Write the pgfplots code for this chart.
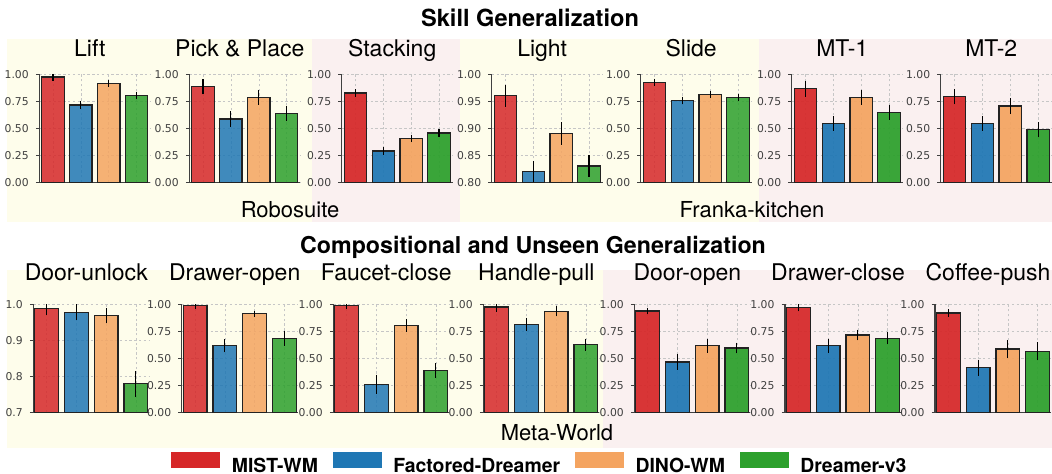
\documentclass[border=0pt]{standalone}
\usepackage{fontspec}
\setmainfont{TeX Gyre Heros}
\newfontfamily\dejavu{DejaVu Sans}
\usepackage{pgfplots}
\pgfplotsset{compat=1.18}

\definecolor{cA}{HTML}{D62728}
\definecolor{cB}{HTML}{1F77B4}
\definecolor{cC}{HTML}{F4A460}
\definecolor{cD}{HTML}{2CA02C}
\definecolor{bgY}{HTML}{FEFDEB}
\definecolor{bgP}{HTML}{FAF0F0}
\definecolor{edge}{HTML}{222222}
\definecolor{spine}{HTML}{404040}

\pgfplotsset{
  panel/.style={
    scale only axis, anchor=south west,
    height=54pt, ymin=0, ymax=1,
    axis x line*=bottom, axis y line*=left,
    axis line style={spine, line width=0.7pt},
    xtick={0,1,2,3}, xticklabels={},
    xtick style={draw=none},
    ytick={0,0.25,0.5,0.75,1},
    ytick style={spine, line width=0.5pt},
    tick align=outside, major tick length=1.75pt,
    grid=major, grid style={dash pattern=on 1.2pt off 1.2pt, gray!45, line width=0.25pt},
    tick label style={font=\dejavu\fontsize{5.4}{6}\selectfont, text=black!75},
    /pgf/number format/assume math mode=true,
    yticklabel style={/pgf/number format/.cd, fixed, fixed zerofill, precision=2},
    title style={font=\fontsize{11.5}{13}\selectfont, anchor=base, at={(0.5,1)}, xshift=-2.5pt},
  },
  toprow/.style={panel, width=55.5pt, xmin=-0.49, xmax=3.49, title style={yshift=3pt}},
  botrow/.style={panel, width=58pt, xmin=-0.45, xmax=3.45, title style={yshift=6pt}},
  bar/.style={ybar, bar width=0.8, bar shift=0pt, draw=edge, line width=0.6pt,
    error bars/y dir=both, error bars/y explicit,
    error bars/error bar style={black, line width=0.55pt},
    error bars/error mark options={mark size=1.3pt, black, line width=0.55pt}},
}

% four bars per panel: opacity, then value/error pairs
\newcommand\bars[9]{%
  \addplot[bar, fill=cA, fill opacity=#1] coordinates {(0,#2) +- (0,#3)};
  \addplot[bar, fill=cB, fill opacity=#1] coordinates {(1,#4) +- (0,#5)};
  \addplot[bar, fill=cC, fill opacity=#1] coordinates {(2,#6) +- (0,#7)};
  \addplot[bar, fill=cD, fill opacity=#1] coordinates {(3,#8) +- (0,#9)};
}

\begin{document}
\begin{tikzpicture}
\useasboundingbox (0,0) rectangle (526pt,-237pt);
\clip (0,0) rectangle (526pt,-237pt);

% group backgrounds
\fill[bgY] (3.5pt,-19.5pt) rectangle (156pt,-111pt);
\fill[bgP] (156pt,-19.5pt) rectangle (230pt,-111pt);
\fill[bgY] (230pt,-19.5pt) rectangle (379.5pt,-111pt);
\fill[bgP] (379.5pt,-19.5pt) rectangle (530pt,-111pt);
\fill[bgY] (3.5pt,-135pt) rectangle (301.5pt,-224pt);
\fill[bgP] (301.5pt,-135pt) rectangle (530pt,-224pt);

\node[anchor=base, font=\bfseries\fontsize{11.8}{14}\selectfont] at (265pt,-13.5pt) {Skill Generalization};
\node[anchor=base, font=\bfseries\fontsize{11.6}{14}\selectfont] at (266.5pt,-127pt) {Compositional and Unseen Generalization};
\node[anchor=base, font=\fontsize{11}{13}\selectfont] at (145pt,-109pt) {Robosuite};
\node[anchor=base, font=\fontsize{11}{13}\selectfont] at (376pt,-109pt) {Franka-kitchen};
\node[anchor=base, font=\fontsize{11}{13}\selectfont] at (278.5pt,-220.5pt) {Meta-World};

% ---- Skill generalization ----
\begin{axis}[toprow, at={(19.65pt,-91.15pt)}, title={Lift}]
\bars{0.85}{0.975}{0.01}{0.716}{0.01}{0.917}{0.01}{0.806}{0.01}
\end{axis}
\begin{axis}[toprow, at={(94.65pt,-91.15pt)}, title={Pick \& Place}]
\bars{0.85}{0.885}{0.046}{0.586}{0.046}{0.787}{0.045}{0.639}{0.046}
\end{axis}
\begin{axis}[toprow, at={(170.85pt,-91.15pt)}, title={Stacking}]
\bars{0.93}{0.827}{0.01}{0.29}{0.012}{0.407}{0.01}{0.456}{0.01}
\end{axis}
\begin{axis}[toprow, at={(245.85pt,-91.15pt)}, title={Light},
  ymin=0.8, ymax=1, ytick={0.8,0.85,0.9,0.95,1}]
\bars{0.85}{0.96}{0.015}{0.82}{0.015}{0.89}{0.016}{0.83}{0.015}
\end{axis}
\begin{axis}[toprow, at={(320.35pt,-91.15pt)}, title={Slide}]
\bars{0.85}{0.926}{0.01}{0.759}{0.01}{0.815}{0.01}{0.787}{0.01}
\end{axis}
\begin{axis}[toprow, at={(395.85pt,-91.15pt)}, title={MT-1}]
\bars{0.93}{0.866}{0.048}{0.546}{0.046}{0.787}{0.047}{0.648}{0.046}
\end{axis}
\begin{axis}[toprow, at={(470.35pt,-91.15pt)}, title={MT-2}]
\bars{0.93}{0.795}{0.046}{0.546}{0.046}{0.707}{0.046}{0.487}{0.046}
\end{axis}

% ---- Compositional and unseen generalization ----
\begin{axis}[botrow, at={(16.65pt,-206.15pt)}, title={Door-unlock},
  ymin=0.7, ymax=1, ytick={0.7,0.8,0.9,1},
  yticklabel style={/pgf/number format/precision=1}]
\bars{0.85}{0.989}{0.011}{0.978}{0.015}{0.968}{0.014}{0.779}{0.029}
\end{axis}
\begin{axis}[botrow, at={(90.85pt,-206.15pt)}, title={Drawer-open}]
\bars{0.85}{0.987}{0.005}{0.617}{0.037}{0.913}{0.005}{0.685}{0.045}
\end{axis}
\begin{axis}[botrow, at={(166.65pt,-206.15pt)}, title={Faucet-close}]
\bars{0.85}{0.987}{0.008}{0.26}{0.065}{0.806}{0.035}{0.385}{0.043}
\end{axis}
\begin{axis}[botrow, at={(241.65pt,-206.15pt)}, title={Handle-pull}]
\bars{0.85}{0.975}{0.022}{0.815}{0.035}{0.935}{0.022}{0.626}{0.032}
\end{axis}
\begin{axis}[botrow, at={(317.15pt,-206.15pt)}, title={Door-open}]
\bars{0.93}{0.938}{0.008}{0.466}{0.05}{0.617}{0.04}{0.595}{0.025}
\end{axis}
\begin{axis}[botrow, at={(392.5pt,-206.15pt)}, title={Drawer-close}]
\bars{0.93}{0.969}{0.01}{0.617}{0.04}{0.716}{0.025}{0.685}{0.03}
\end{axis}
\begin{axis}[botrow, at={(467.5pt,-206.15pt)}, title={Coffee-push}]
\bars{0.93}{0.92}{0.01}{0.413}{0.05}{0.586}{0.06}{0.565}{0.06}
\end{axis}

% shared legend
\begin{axis}[hide axis, scale only axis, width=20pt, height=10pt,
  at={(270.5pt,-233pt)}, anchor=center,
  xmin=0, xmax=1, ymin=0, ymax=1,
  legend columns=4,
  legend style={at={(0.5,0.5)}, anchor=center, draw=none, fill=none,
    font=\bfseries\fontsize{9.7}{11}\selectfont,
    /tikz/every even column/.append style={column sep=5.5pt}},
  legend image code/.code={\fill[#1, draw=none] (0pt,-0.8pt) rectangle (24.5pt,7.2pt);
    \path (28pt,0pt);}]
\addlegendimage{fill=cA}\addlegendentry{MIST-WM}
\addlegendimage{fill=cB}\addlegendentry{Factored-Dreamer}
\addlegendimage{fill=cC}\addlegendentry{DINO-WM}
\addlegendimage{fill=cD}\addlegendentry{Dreamer-v3}
\end{axis}
\end{tikzpicture}
\end{document}
